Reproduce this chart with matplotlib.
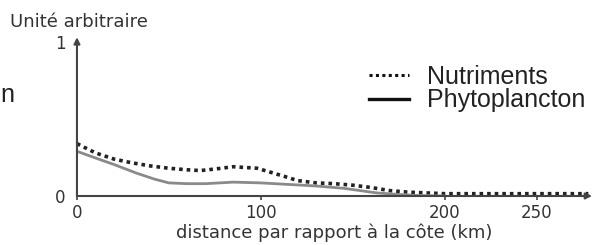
import matplotlib
matplotlib.use("Agg")
import matplotlib.pyplot as plt

# Data
nutr_km = [0, 10, 20, 30, 40, 50, 60, 67, 75, 85, 98, 112, 120, 130, 140, 150, 160, 170, 180, 190, 200, 220, 240, 260, 278]
nutr_val = [0.34, 0.28, 0.24, 0.215, 0.195, 0.18, 0.17, 0.165, 0.175, 0.19, 0.18, 0.13, 0.10, 0.085, 0.08, 0.07, 0.055, 0.035, 0.025, 0.02, 0.015, 0.015, 0.015, 0.015, 0.015]
phyto_km = [0, 14, 20, 32, 42, 50, 60, 70, 85, 100, 115, 130, 145, 163, 175, 185, 200]
phyto_val = [0.29, 0.23, 0.205, 0.15, 0.11, 0.085, 0.08, 0.08, 0.09, 0.085, 0.075, 0.065, 0.05, 0.02, 0.01, 0.003, 0.0]
xtick_vals = [0, 100, 200, 250]
xtick_labels = ["0", "100", "200", "250"]
ytick_vals = [0, 1]
ytick_labels = ["0", "1"]
series_names = ["Nutriments", "Phytoplancton"]

fig = plt.figure(figsize=(5.92, 2.45), dpi=100)
ax = fig.add_axes([0.130, 0.2, 0.870, 0.629])
ax.set_xlim(0, 280)
ax.set_ylim(0, 1)

ax.plot(nutr_km, nutr_val, linestyle=(0, (1, 1.1)), color="#222222", lw=2.6, label=series_names[0])
ax.plot(phyto_km, phyto_val, linestyle="-", color="#8a8a8a", lw=2.0, label=series_names[1])

for s in ax.spines.values():
    s.set_visible(False)
axc = "#444444"
ax.annotate("", xy=(0, 1.03), xytext=(0, 0), xycoords="axes fraction",
            arrowprops=dict(arrowstyle="-|>", color=axc, lw=1.5, mutation_scale=9, shrinkA=0, shrinkB=0),
            annotation_clip=False)
ax.annotate("", xy=(1.0, 0), xytext=(0, 0), xycoords="axes fraction",
            arrowprops=dict(arrowstyle="-|>", color=axc, lw=1.5, mutation_scale=9, shrinkA=0, shrinkB=0),
            annotation_clip=False)

tc = "#333333"
ax.set_xticks(xtick_vals)
ax.set_xticklabels(xtick_labels, fontsize=12, color=tc, family="DejaVu Sans")
ax.tick_params(axis="x", length=3, width=1.2, color=axc, pad=3, direction="out")
ax.set_yticks(ytick_vals)
ax.set_yticklabels(ytick_labels, fontsize=12, color=tc, family="DejaVu Sans")
ax.tick_params(axis="y", length=0, pad=8)

ax.set_xlabel("distance par rapport à la côte (km)", fontsize=13, color=tc, family="DejaVu Sans", labelpad=1)
fig.text(10/592, 1 - 22/245, "Unité arbitraire", fontsize=13, color=tc, family="DejaVu Sans", ha="left", va="center")
fig.text(0.0, 1 - 95/245, "n", fontsize=18, color="#222222", family="Liberation Sans", ha="left", va="center")

leg = ax.legend(loc="upper left", bbox_to_anchor=(356/592, 1 - 52/245), bbox_transform=fig.transFigure,
                frameon=False, prop={"family": "Liberation Sans", "size": 18},
                handlelength=1.6, handletextpad=0.75, labelspacing=0.0, borderpad=0.0)
for t in leg.get_texts():
    t.set_color("#222222")
leg.legend_handles[0].set_color("#111111")
leg.legend_handles[0].set_linewidth(2.2)
leg.legend_handles[1].set_color("#111111")
leg.legend_handles[1].set_linewidth(2.4)

fig.savefig("out.png", dpi=100)
